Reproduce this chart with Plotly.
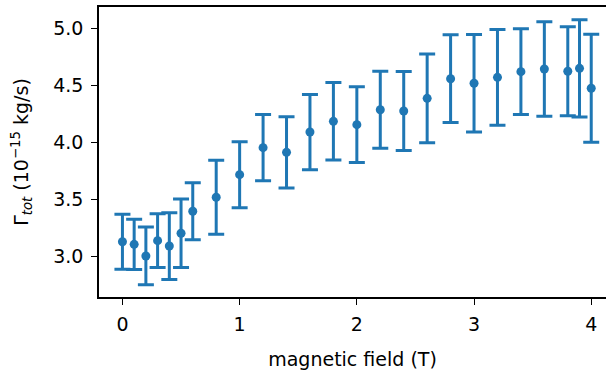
import plotly.graph_objects as go

field = [0, 0.1, 0.2, 0.3, 0.4, 0.5, 0.6, 0.8, 1.0, 1.2, 1.4, 1.6, 1.8, 2.0,
         2.2, 2.4, 2.6, 2.8, 3.0, 3.2, 3.4, 3.6, 3.8, 3.9, 4.0]
gamma = [3.128, 3.105, 3.003, 3.137, 3.09, 3.202, 3.395, 3.518, 3.716, 3.953,
         3.912, 4.09, 4.184, 4.155, 4.286, 4.275, 4.386, 4.558, 4.518, 4.57,
         4.62, 4.643, 4.623, 4.649, 4.474]
gamma_err = [0.241, 0.221, 0.253, 0.236, 0.293, 0.30, 0.25, 0.325, 0.29, 0.29,
             0.313, 0.33, 0.34, 0.333, 0.338, 0.347, 0.389, 0.385, 0.427, 0.42,
             0.376, 0.414, 0.39, 0.427, 0.474]

xticks = [0, 1, 2, 3, 4]
yticks = [3.0, 3.5, 4.0, 4.5, 5.0]
ytick_text = ["3.0", "3.5", "4.0", "4.5", "5.0"]

color = "#1f77b4"
font = "DejaVu Sans"

fig = go.Figure(go.Scatter(
    x=field, y=gamma, mode="markers",
    marker=dict(color=color, size=9),
    error_y=dict(type="data", array=gamma_err, visible=True,
                 color=color, thickness=3, width=8),
))

fig.update_layout(
    width=606, height=374,
    margin=dict(l=99, r=0, t=7, b=77),
    paper_bgcolor="white", plot_bgcolor="white",
    font=dict(family=font, size=19, color="black"),
    showlegend=False,
    xaxis=dict(
        range=[-0.2, 4.126], tickvals=xticks, ticktext=[str(t) for t in xticks],
        showgrid=False, zeroline=False, showline=True, linecolor="black",
        linewidth=1.6, mirror=True, ticks="outside", ticklen=6, tickwidth=1.3,
        tickcolor="black", ticklabelstandoff=3,
        title=dict(text="magnetic field (T)", standoff=19, font=dict(size=19)),
    ),
    yaxis=dict(
        range=[2.643, 5.187], tickvals=yticks, ticktext=ytick_text,
        showgrid=False, zeroline=False, showline=True, linecolor="black",
        linewidth=1.6, ticks="outside", ticklen=6, tickwidth=1.3,
        tickcolor="black", ticklabelstandoff=4,
        title=dict(text="Γ<sub><i>tot</i></sub> (10<sup>−15</sup> kg/s)",
                   standoff=20, font=dict(size=19)),
    ),
)

fig.write_html(
    "out.html",
    config={"displayModeBar": False},
    post_script="document.body.style.margin='0';document.body.style.overflow='hidden';",
)
